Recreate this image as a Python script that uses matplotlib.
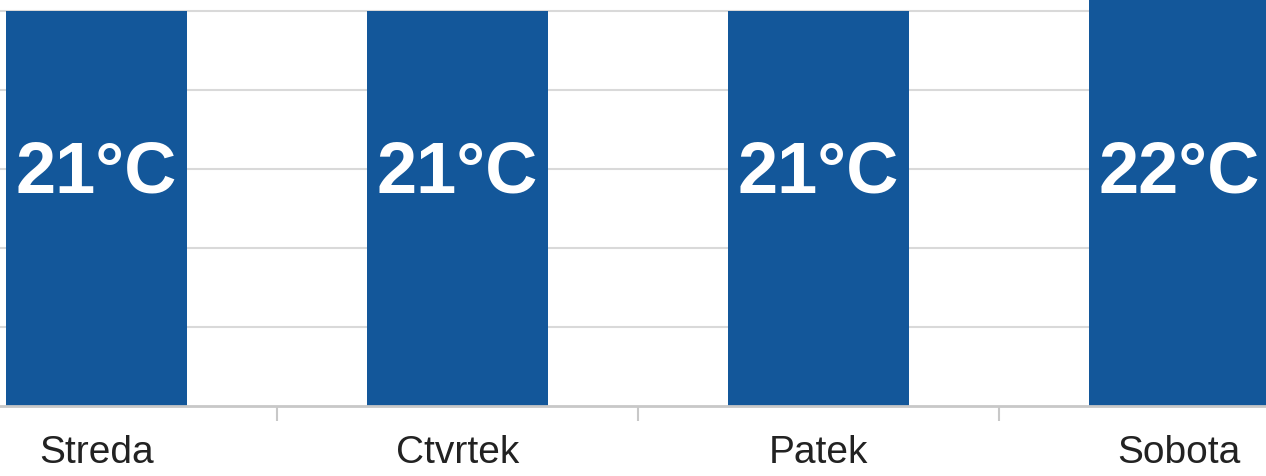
import numpy as np
import matplotlib.pyplot as plt

plt.rcParams['font.family'] = ['Liberation Sans', 'DejaVu Sans']

days = ['Streda', 'Ctvrtek', 'Patek', 'Sobota']
temps = [21, 21, 21, 22]
labels = ['21°C', '21°C', '21°C', '22°C']
index = np.arange(len(days))

fig = plt.figure(figsize=(12.66, 4.77), dpi=100)
ax = fig.add_axes([0, 70 / 477, 1, 1 - 70 / 477])

ax.bar(index, temps, width=0.5, color='#13579a', zorder=2)
for i, t in enumerate(temps):
    ax.text(i, 18.72, labels[i], color='white', fontsize=52, fontweight='bold',
            ha='center', va='baseline', zorder=3)

ax.set_xlim(-0.267, 3.24)
ax.set_ylim(16, 16 + 407 / 79)
ax.set_yticks([17, 18, 19, 20, 21])
ax.yaxis.grid(True, color='#d9d9d9', linewidth=1.5, zorder=0)
ax.tick_params(axis='y', length=0, labelleft=False)

ax.set_xticks(index)
ax.set_xticklabels(days, fontsize=28, color='#222222')
ax.set_xticks(index[:-1] + 0.5, minor=True)
ax.tick_params(axis='x', which='major', length=0, pad=20)
ax.tick_params(axis='x', which='minor', length=11, width=1.5, color='#c8c8c8')

for s in ['left', 'top', 'right']:
    ax.spines[s].set_visible(False)
ax.spines['bottom'].set_color('#c8c8c8')
ax.spines['bottom'].set_linewidth(2)

plt.savefig('out.png', dpi=100)
